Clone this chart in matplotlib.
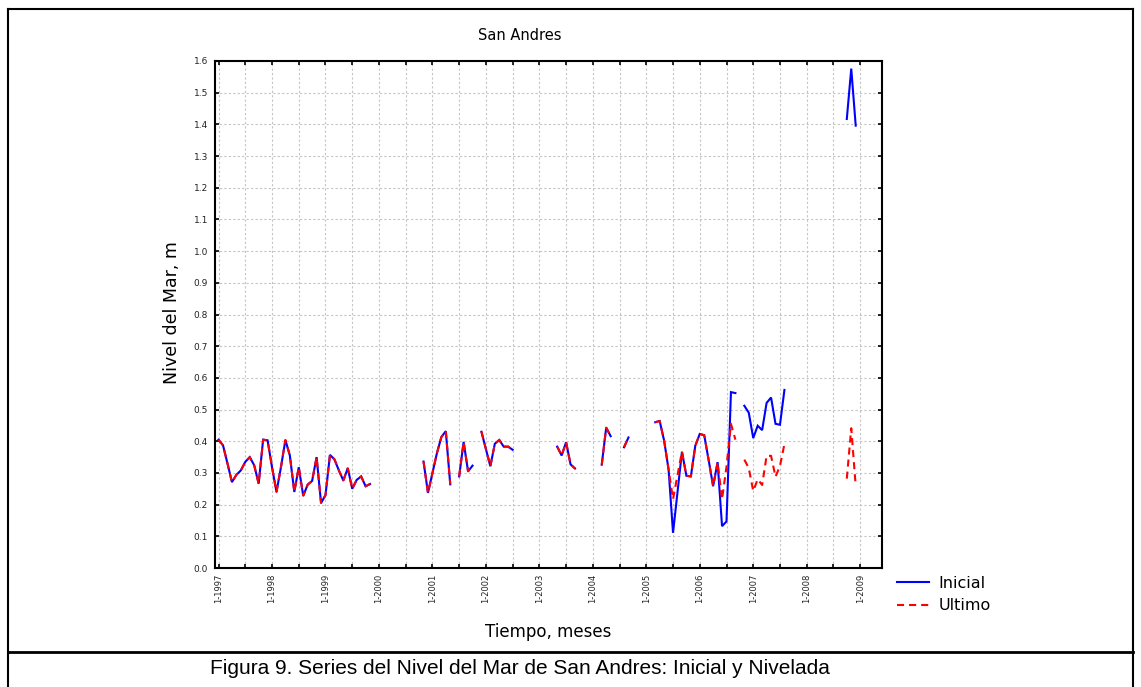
import numpy as np
import matplotlib
matplotlib.use("Agg")
import matplotlib.pyplot as plt
from matplotlib.lines import Line2D

nan = np.nan

# Monthly sea level (m) at San Andres, January 1997 = month 0
start_year = 1997
inicial = [
    # 1997
    0.405, 0.387, 0.330, 0.271, 0.294, 0.308, 0.335, 0.350, 0.324, 0.266, 0.405, 0.403,
    # 1998
    0.318, 0.240, 0.318, 0.404, 0.355, 0.240, 0.318, 0.228, 0.263, 0.275, 0.350, 0.205,
    # 1999
    0.230, 0.357, 0.343, 0.308, 0.276, 0.315, 0.250, 0.278, 0.289, 0.258, 0.265, nan,
    # 2000
    nan, nan, nan, nan, nan, nan, nan, nan, nan, nan, 0.336, 0.237,
    # 2001
    0.300, 0.362, 0.413, 0.432, 0.264, nan, 0.289, 0.398, 0.305, 0.323, nan, 0.430,
    # 2002
    0.375, 0.321, 0.392, 0.404, 0.383, 0.383, 0.373, nan, nan, nan, nan, nan,
    # 2003
    nan, nan, nan, nan, 0.383, 0.355, 0.397, 0.327, 0.314, nan, nan, nan,
    # 2004
    nan, nan, 0.326, 0.443, 0.416, nan, nan, 0.381, 0.412, nan, nan, nan,
    # 2005
    nan, nan, 0.460, 0.464, 0.402, 0.311, 0.111, 0.240, 0.367, 0.291, 0.289, 0.386,
    # 2006
    0.423, 0.419, 0.340, 0.258, 0.334, 0.132, 0.147, 0.555, 0.552, nan, 0.512, 0.490,
    # 2007
    0.410, 0.449, 0.435, 0.521, 0.538, 0.455, 0.452, 0.562, nan, nan, nan, nan,
    # 2008
    nan, nan, nan, nan, nan, nan, nan, nan, nan, 1.417, 1.576, 1.396,
]

ultimo = [
    # 1997
    0.405, 0.387, 0.330, 0.271, 0.294, 0.308, 0.335, 0.350, 0.324, 0.266, 0.405, 0.403,
    # 1998
    0.318, 0.240, 0.318, 0.404, 0.355, 0.240, 0.318, 0.228, 0.263, 0.275, 0.350, 0.205,
    # 1999
    0.230, 0.357, 0.343, 0.308, 0.276, 0.315, 0.250, 0.278, 0.289, 0.258, 0.265, nan,
    # 2000
    nan, nan, nan, nan, nan, nan, nan, nan, nan, nan, 0.336, 0.237,
    # 2001
    0.300, 0.362, 0.413, 0.432, 0.264, nan, 0.289, 0.398, 0.305, 0.323, nan, 0.430,
    # 2002
    0.375, 0.321, 0.392, 0.404, 0.383, 0.383, 0.373, nan, nan, nan, nan, nan,
    # 2003
    nan, nan, nan, nan, 0.383, 0.355, 0.397, 0.327, 0.314, nan, nan, nan,
    # 2004
    nan, nan, 0.326, 0.443, 0.416, nan, nan, 0.381, 0.412, nan, nan, nan,
    # 2005
    nan, nan, 0.460, 0.464, 0.402, 0.311, 0.217, 0.293, 0.367, 0.291, 0.289, 0.386,
    # 2006
    0.423, 0.419, 0.340, 0.258, 0.334, 0.217, 0.320, 0.455, 0.405, nan, 0.342, 0.315,
    # 2007
    0.243, 0.280, 0.262, 0.354, 0.354, 0.288, 0.322, 0.391, nan, nan, nan, nan,
    # 2008
    nan, nan, nan, nan, nan, nan, nan, nan, nan, 0.282, 0.441, 0.259,
]

series_names = ["Inicial", "Ultimo"]
series_colors = ["#0000ff", "#ff0000"]
years = list(range(1997, 2010))
tick_months = list(range(0, 12 * len(years) - 11, 6))
tick_labels = [f"1-{start_year + m // 12}" if m % 12 == 0 else "" for m in tick_months]
yticks = np.round(np.arange(0, 1.61, 0.1), 1)

title = "San Andres"
xlabel = "Tiempo, meses"
ylabel = "Nivel del Mar, m"
caption = "Figura 9. Series del Nivel del Mar de San Andres: Inicial y Nivelada"

W, H = 1141, 687
fig = plt.figure(figsize=(W / 100, H / 100), dpi=100)
fig.patch.set_facecolor("white")

def fx(px):
    return px / W

def fy(py):
    return 1 - py / H

ax = fig.add_axes([fx(215), fy(568), fx(882) - fx(215), fy(61) - fy(568)])

months = np.arange(len(inicial))
l1, = ax.plot(months, inicial, color=series_colors[0], lw=1.5, solid_joinstyle="miter",
              label=series_names[0], zorder=3)
l2, = ax.plot(months, ultimo, color=series_colors[1], lw=1.5,
              linestyle=(0, (3.4, 2.4)), label=series_names[1], zorder=4)

ax.set_xlim(-0.8, 148.9)
ax.set_ylim(0, 1.6)
ax.set_xticks(tick_months)
ax.set_xticklabels(tick_labels, rotation=90, fontsize=6, color="#222222")
ax.set_yticks(yticks)
ax.set_yticklabels([f"{v:.1f}" for v in yticks], fontsize=6.5, color="#222222")
ax.tick_params(axis="both", direction="in", length=3, width=1.2,
               top=True, right=True)
ax.tick_params(axis="x", pad=4)
ax.tick_params(axis="y", pad=5)
ax.grid(True, color="#c4c4c4", linestyle=(0, (2, 2)), linewidth=0.8)
ax.set_axisbelow(True)
for sp in ax.spines.values():
    sp.set_linewidth(1.5)

fig.text(fx(520), fy(35), title, ha="center", va="center", fontsize=10.5)
fig.text(fx(548), fy(632), xlabel, ha="center", va="center", fontsize=12)
fig.text(fx(172), fy(313), ylabel, ha="center", va="center", rotation=90, fontsize=12.5)

fig.legend(handles=[l1, l2], labels=series_names, loc="center left",
           bbox_to_anchor=(fx(897), fy(594.5)), frameon=False, fontsize=11.5,
           handlelength=2.0, handletextpad=0.6, labelspacing=0.45,
           borderpad=0, borderaxespad=0)

# Table-style frame around the chart and caption row
frame_kw = dict(color="black", lw=1.5, transform=fig.transFigure)
x0, x1 = fx(8), fx(1133)
ytop, ymid, ybot = fy(9), fy(652), 0.0
fig.add_artist(Line2D([x0, x1], [ytop, ytop], **frame_kw))
fig.add_artist(Line2D([x0, x0], [ytop, ybot], **frame_kw))
fig.add_artist(Line2D([x1, x1], [ytop, ybot], **frame_kw))
fig.add_artist(Line2D([x0, x1], [ymid, ymid], color="black", lw=2,
                      transform=fig.transFigure))

fig.text(fx(520), fy(669), caption, ha="center", va="center", fontsize=15,
         family=["Liberation Sans", "DejaVu Sans"])

fig.savefig("out.png", dpi=100)
